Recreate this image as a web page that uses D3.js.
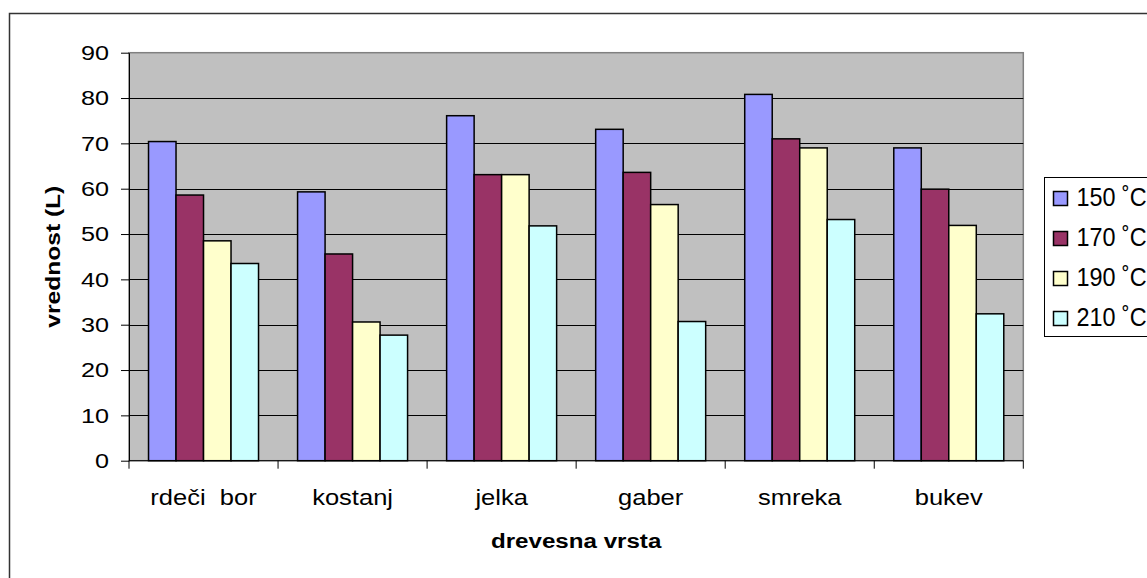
<!DOCTYPE html>
<html>
<head>
<meta charset="utf-8">
<script src="https://cdn.jsdelivr.net/npm/d3@7"></script>
<style>
  html, body { margin: 0; padding: 0; background: #fff; }
  svg { display: block; font-family: "Liberation Sans", Arial, sans-serif; }
</style>
</head>
<body>
<svg id="chart" width="1147" height="578"></svg>
<script>
// Tree species (x categories)
const categories = ["rdeči  bor", "kostanj", "jelka", "gaber", "smreka", "bukev"];
// Treatment temperatures (series)
const seriesNames = ["150 ˚C", "170 ˚C", "190 ˚C", "210 ˚C"];
const seriesColors = ["#9999FF", "#993366", "#FFFFCC", "#CCFFFF"];
// Lightness value L per species, one array per temperature
const values150 = [70.4, 59.3, 76.1, 73.1, 80.8, 69.0];
const values170 = [58.6, 45.6, 63.1, 63.6, 71.0, 59.9];
const values190 = [48.5, 30.6, 63.1, 56.5, 69.0, 51.9];
const values210 = [43.5, 27.7, 51.8, 30.7, 53.2, 32.4];
const yTicks = [0, 10, 20, 30, 40, 50, 60, 70, 80, 90];

const seriesValues = [values150, values170, values190, values210];

// The chart's lettering is wide-set; stretch each text horizontally about its anchor
function stretch(sel, sx) {
  sel.each(function () {
    const t = d3.select(this);
    const x = +t.attr("x") || 0;
    const y = +t.attr("y") || 0;
    t.attr("x", 0).attr("y", 0)
     .attr("transform", `translate(${x},${y}) scale(${sx},1)`);
  });
}

const svg = d3.select("#chart");

// Outer chart frame
svg.append("rect")
  .attr("x", 9.5).attr("y", 13.5)
  .attr("width", 1300).attr("height", 700)
  .attr("fill", "#fff")
  .attr("stroke", "#333").attr("stroke-width", 1.5);

const plot = { left: 129, right: 1023.3, top: 52.7, bottom: 460.7 };

const x0 = d3.scaleBand()
  .domain(categories)
  .range([plot.left, plot.right])
  .paddingInner(0).paddingOuter(0);

const x1 = d3.scaleBand()
  .domain(d3.range(seriesNames.length))
  .range([0, x0.bandwidth()])
  .paddingInner(0).paddingOuter(0.71);

const y = d3.scaleLinear().domain([0, 90]).range([plot.bottom, plot.top]);

// Plot area background
svg.append("rect")
  .attr("x", plot.left).attr("y", plot.top)
  .attr("width", plot.right - plot.left).attr("height", plot.bottom - plot.top)
  .attr("fill", "#C0C0C0")
  .attr("stroke", "#808080").attr("stroke-width", 1.5);

// Horizontal gridlines
svg.append("g")
  .selectAll("line")
  .data(yTicks.filter(t => t > 0 && t < 90))
  .join("line")
  .attr("x1", plot.left).attr("x2", plot.right)
  .attr("y1", d => Math.round(y(d)) + 0.5).attr("y2", d => Math.round(y(d)) + 0.5)
  .attr("stroke", "#000").attr("stroke-width", 1.2);

// Bars
const groups = svg.append("g")
  .selectAll("g")
  .data(categories)
  .join("g")
  .attr("transform", d => `translate(${x0(d)},0)`);

groups.selectAll("rect")
  .data((d, i) => seriesValues.map((vals, s) => ({ s, v: vals[i] })))
  .join("rect")
  .attr("x", d => x1(d.s))
  .attr("width", x1.bandwidth())
  .attr("y", d => y(d.v))
  .attr("height", d => y(0) - y(d.v))
  .attr("fill", d => seriesColors[d.s])
  .attr("stroke", "#000").attr("stroke-width", 1.5);

// Y axis
const yAxis = svg.append("g")
  .attr("transform", `translate(${plot.left},0)`)
  .call(d3.axisLeft(y).tickValues(yTicks).tickSize(8).tickPadding(12).tickSizeOuter(0));
yAxis.select(".domain").attr("stroke", "#000");
yAxis.selectAll(".tick line").attr("stroke", "#000");
yAxis.selectAll(".tick text")
  .attr("fill", "#000")
  .style("font-size", "21px")
  .style("font-family", "'Liberation Sans', Arial, sans-serif")
  .call(stretch, 1.2);

// X axis: ticks at category boundaries, labels centred in each band
const xAxis = svg.append("g").attr("transform", `translate(0,${plot.bottom})`);
xAxis.append("line")
  .attr("x1", plot.left).attr("x2", plot.right)
  .attr("y1", 0).attr("y2", 0)
  .attr("stroke", "#000");
const boundaries = categories.map(c => x0(c)).concat([plot.right]);
xAxis.selectAll("line.tick")
  .data(boundaries)
  .join("line")
  .attr("class", "tick")
  .attr("x1", d => d).attr("x2", d => d)
  .attr("y1", 0).attr("y2", 8)
  .attr("stroke", "#000");
xAxis.selectAll("text")
  .data(categories)
  .join("text")
  .attr("x", d => x0(d) + x0.bandwidth() / 2)
  .attr("y", 44)
  .attr("text-anchor", "middle")
  .style("font-size", "22px")
  .style("white-space", "pre")
  .attr("xml:space", "preserve")
  .text(d => d)
  .call(stretch, 1.16);

// Axis titles
svg.append("text")
  .attr("x", (plot.left + plot.right) / 2)
  .attr("y", 548)
  .attr("text-anchor", "middle")
  .style("font-size", "21px").style("font-weight", "bold")
  .text("drevesna vrsta")
  .call(stretch, 1.15);

// Rotated y title: centred on the plot, its right edge kept at x = 62
const yTitleG = svg.append("g");
const yTitle = yTitleG.append("text")
  .attr("text-anchor", "middle")
  .attr("dominant-baseline", "central")
  .attr("transform", `rotate(-90) scale(1.17,1)`)
  .style("font-size", "21px").style("font-weight", "bold")
  .text("vrednost (L)");
const svgBox = svg.node().getBoundingClientRect();
const tb = yTitle.node().getBoundingClientRect();
const cx = (tb.left + tb.right) / 2 - svgBox.left;
const cy = (tb.top + tb.bottom) / 2 - svgBox.top;
yTitleG.attr("transform", `translate(${53 - cx},${(plot.top + plot.bottom) / 2 - cy})`);

// Legend
const legend = svg.append("g").attr("transform", "translate(1044.5,177.5)");
legend.append("rect")
  .attr("width", 140).attr("height", 159)
  .attr("fill", "#fff").attr("stroke", "#000").attr("stroke-width", 1);
const items = legend.selectAll("g")
  .data(seriesNames)
  .join("g")
  .attr("transform", (d, i) => `translate(0,${21 + i * 40})`);
items.append("rect")
  .attr("x", 9).attr("y", -7)
  .attr("width", 14).attr("height", 14)
  .attr("fill", (d, i) => seriesColors[i])
  .attr("stroke", "#000").attr("stroke-width", 1.5);
items.append("text")
  .attr("x", 32).attr("y", 7.5)
  .style("font-size", "26px")
  .text(d => d)
  .call(stretch, 0.9);
</script>
</body>
</html>
